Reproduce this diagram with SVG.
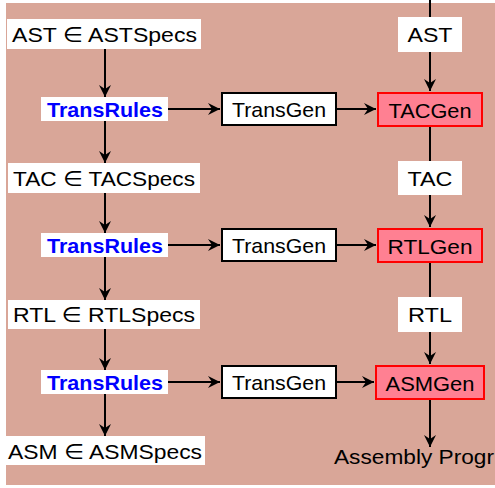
<svg xmlns="http://www.w3.org/2000/svg" width="495" height="488" viewBox="0 0 495 488">
<style>
text{font-family:"Liberation Sans","DejaVu Sans",sans-serif;font-size:21px;fill:#000;text-anchor:middle}
.lbl{fill:#fff;stroke:none}
.rules{fill:#00f;font-weight:bold}
.gen{fill:#fff;stroke:#000;stroke-width:2}
.cg{fill:#ff8092;stroke:#f00;stroke-width:2}
.c line{stroke:#000;stroke-width:2}
</style>
<defs>
<marker id="ah" markerUnits="userSpaceOnUse" markerWidth="14" markerHeight="14" viewBox="-13 -7 14 14" refX="0" refY="0" orient="auto">
<path d="M0,0 L-12,-6 L-8,0 L-12,6 Z" fill="#000"/>
</marker>
</defs>
<rect x="6" y="3" width="489" height="482" fill="#d9a698"/>
<g class="c">
<line x1="105" y1="49" x2="105" y2="97" marker-end="url(#ah)"/>
<line x1="105" y1="121" x2="105" y2="163" marker-end="url(#ah)"/>
<line x1="105" y1="193" x2="105" y2="233" marker-end="url(#ah)"/>
<line x1="105" y1="257" x2="105" y2="300" marker-end="url(#ah)"/>
<line x1="105" y1="329" x2="105" y2="370" marker-end="url(#ah)"/>
<line x1="105" y1="394" x2="105" y2="436" marker-end="url(#ah)"/>
<line x1="168" y1="109" x2="220" y2="109" marker-end="url(#ah)"/>
<line x1="168" y1="245" x2="220" y2="245" marker-end="url(#ah)"/>
<line x1="168" y1="382" x2="220" y2="382" marker-end="url(#ah)"/>
<line x1="337" y1="109" x2="376" y2="109" marker-end="url(#ah)"/>
<line x1="337" y1="245" x2="376" y2="245" marker-end="url(#ah)"/>
<line x1="337" y1="382" x2="374" y2="382" marker-end="url(#ah)"/>
<line x1="430" y1="0" x2="430" y2="17"/>
<line x1="430" y1="52" x2="430" y2="91" marker-end="url(#ah)"/>
<line x1="430" y1="127" x2="430" y2="161"/>
<line x1="430" y1="195" x2="430" y2="227" marker-end="url(#ah)"/>
<line x1="430" y1="263" x2="430" y2="297"/>
<line x1="430" y1="332" x2="430" y2="364" marker-end="url(#ah)"/>
<line x1="430" y1="400" x2="430" y2="447" marker-end="url(#ah)"/>
</g>
<g id="ast-spec"><rect class="lbl" x="7" y="19" width="194" height="30"/><text x="104.5" y="41.5" textLength="185" lengthAdjust="spacingAndGlyphs">AST ∈ ASTSpecs</text></g>
<g id="tac-spec"><rect class="lbl" x="8" y="163" width="192" height="30"/><text x="104" y="185.5" textLength="182" lengthAdjust="spacingAndGlyphs">TAC ∈ TACSpecs</text></g>
<g id="rtl-spec"><rect class="lbl" x="8" y="300" width="192" height="29"/><text x="104" y="322" textLength="182" lengthAdjust="spacingAndGlyphs">RTL ∈ RTLSpecs</text></g>
<g id="asm-spec"><rect class="lbl" x="6" y="436" width="199" height="29"/><text x="105" y="458.5" textLength="194" lengthAdjust="spacingAndGlyphs">ASM ∈ ASMSpecs</text></g>
<g id="rules1"><rect class="lbl" x="41" y="97" width="127" height="24"/><text class="rules" x="105" y="116.5" textLength="116" lengthAdjust="spacingAndGlyphs">TransRules</text></g>
<g id="rules2"><rect class="lbl" x="41" y="233" width="127" height="24"/><text class="rules" x="105" y="252.5" textLength="116" lengthAdjust="spacingAndGlyphs">TransRules</text></g>
<g id="rules3"><rect class="lbl" x="41" y="370" width="127" height="24"/><text class="rules" x="105" y="389.5" textLength="116" lengthAdjust="spacingAndGlyphs">TransRules</text></g>
<g id="gen1"><rect class="gen" x="222" y="93" width="114" height="32"/><text x="279" y="117" textLength="94" lengthAdjust="spacingAndGlyphs">TransGen</text></g>
<g id="gen2"><rect class="gen" x="222" y="229" width="114" height="32"/><text x="279" y="253" textLength="94" lengthAdjust="spacingAndGlyphs">TransGen</text></g>
<g id="gen3"><rect class="gen" x="222" y="366" width="114" height="32"/><text x="279" y="390" textLength="94" lengthAdjust="spacingAndGlyphs">TransGen</text></g>
<g id="tacgen"><rect class="cg" x="378" y="93" width="104" height="33"/><text x="430" y="117.5" textLength="83" lengthAdjust="spacingAndGlyphs">TACGen</text></g>
<g id="rtlgen"><rect class="cg" x="378" y="229" width="104" height="33"/><text x="430" y="253.5" textLength="85" lengthAdjust="spacingAndGlyphs">RTLGen</text></g>
<g id="asmgen"><rect class="cg" x="376" y="366" width="108" height="33"/><text x="430" y="390.5" textLength="89" lengthAdjust="spacingAndGlyphs">ASMGen</text></g>
<g id="ast"><rect class="lbl" x="398" y="17" width="64" height="35"/><text x="430" y="42" textLength="45" lengthAdjust="spacingAndGlyphs">AST</text></g>
<g id="tac"><rect class="lbl" x="398" y="161" width="64" height="34"/><text x="430" y="185.5" textLength="45" lengthAdjust="spacingAndGlyphs">TAC</text></g>
<g id="rtl"><rect class="lbl" x="398" y="297" width="64" height="35"/><text x="430" y="322" textLength="44" lengthAdjust="spacingAndGlyphs">RTL</text></g>
<g id="program"><text x="414" y="463.5" textLength="160" lengthAdjust="spacingAndGlyphs">Assembly Progr</text></g>
</svg>
